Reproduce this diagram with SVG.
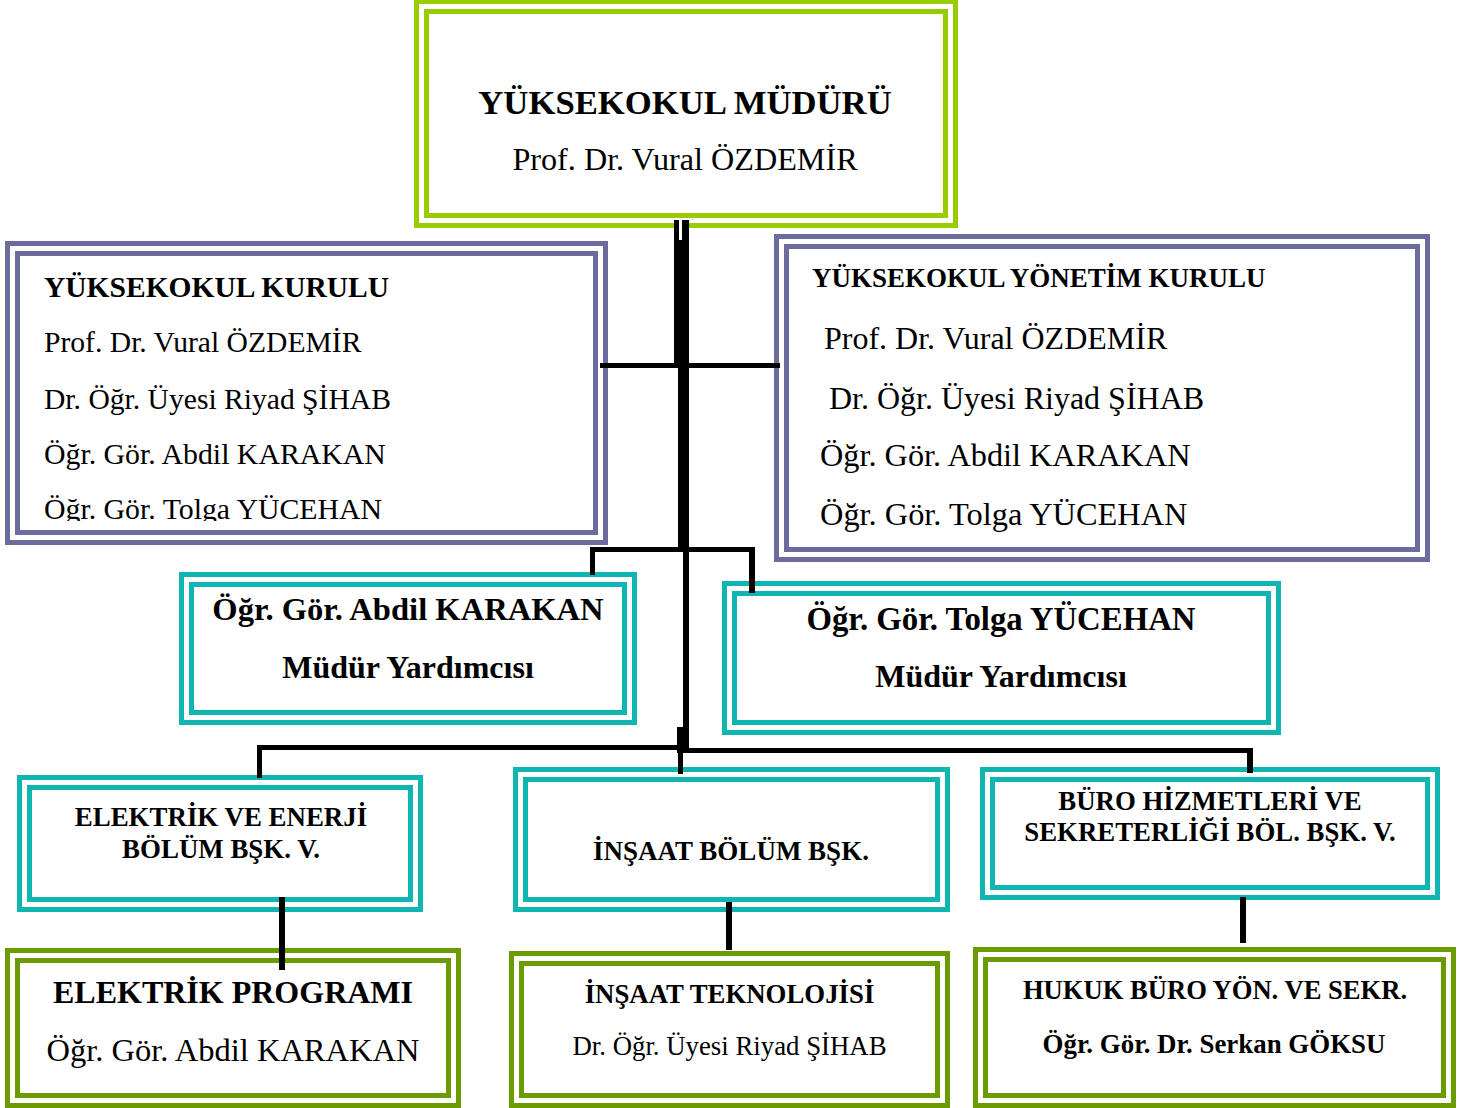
<svg xmlns="http://www.w3.org/2000/svg" width="1465" height="1108" viewBox="0 0 1465 1108">
<style>
  .o, .i { fill: none; stroke-width: 5; }
  .lime { stroke: #99cc00; }
  .purple { stroke: #6b6b9e; }
  .teal { stroke: #0fb5b1; }
  .olive { stroke: #6a9b00; }
  text { font-family: "Liberation Serif", "Times New Roman", serif; fill: #000; }
  .b { font-weight: bold; }
  .c { text-anchor: middle; }
  .conn rect { fill: #000; }
</style>
<defs>
  <clipPath id="clipYK"><rect x="17" y="253" width="578" height="268"/></clipPath>
</defs>
<rect x="0" y="0" width="1465" height="1108" fill="#fff"/>

<g id="mudur">
  <rect class="o lime" x="416.5" y="1.5" width="539" height="224"/>
  <rect class="i lime" x="426.5" y="11.5" width="519" height="204"/>
  <text class="b c" x="685" y="114" font-size="34.7">YÜKSEKOKUL MÜDÜRÜ</text>
  <text class="c" x="685" y="170" font-size="32.2">Prof. Dr. Vural ÖZDEMİR</text>
</g>

<g id="kurul">
  <rect class="o purple" x="7.5" y="243.5" width="598" height="299"/>
  <rect class="i purple" x="17.5" y="253.5" width="578" height="279"/>
  <g clip-path="url(#clipYK)">
    <text class="b" x="44" y="297" font-size="29.5">YÜKSEKOKUL KURULU</text>
    <text x="44" y="352" font-size="29.6">Prof. Dr. Vural ÖZDEMİR</text>
    <text x="44" y="409" font-size="29.6">Dr. Öğr. Üyesi Riyad ŞİHAB</text>
    <text x="44" y="464" font-size="29.8">Öğr. Gör. Abdil KARAKAN</text>
    <text x="44" y="519" font-size="29.8">Öğr. Gör. Tolga YÜCEHAN</text>
  </g>
</g>

<g id="yonetim">
  <rect class="o purple" x="776.5" y="236.5" width="651" height="323"/>
  <rect class="i purple" x="786.5" y="246.5" width="631" height="303"/>
  <text class="b" x="812" y="287" font-size="27">YÜKSEKOKUL YÖNETİM KURULU</text>
  <text x="824" y="349" font-size="32">Prof. Dr. Vural ÖZDEMİR</text>
  <text x="829" y="409" font-size="32">Dr. Öğr. Üyesi Riyad ŞİHAB</text>
  <text x="820" y="466" font-size="32.3">Öğr. Gör. Abdil KARAKAN</text>
  <text x="820" y="525" font-size="32.4">Öğr. Gör. Tolga YÜCEHAN</text>
</g>

<g id="yard1">
  <rect class="o teal" x="181.5" y="574.5" width="453" height="148"/>
  <rect class="i teal" x="191.5" y="584.5" width="433" height="128"/>
  <text class="b c" x="408" y="620" font-size="32.6">Öğr. Gör. Abdil KARAKAN</text>
  <text class="b c" x="408" y="678" font-size="32">Müdür Yardımcısı</text>
</g>

<g id="yard2">
  <rect class="o teal" x="724.5" y="583.5" width="554" height="149"/>
  <rect class="i teal" x="734.5" y="593.5" width="534" height="129"/>
  <text class="b c" x="1001" y="630" font-size="32.8">Öğr. Gör. Tolga YÜCEHAN</text>
  <text class="b c" x="1001" y="687" font-size="32">Müdür Yardımcısı</text>
</g>

<g id="elektrik-bolum">
  <rect class="o teal" x="19.5" y="777.5" width="401" height="132"/>
  <rect class="i teal" x="29.5" y="787.5" width="381" height="112"/>
  <text class="b c" x="221" y="826" font-size="26.9">ELEKTRİK VE ENERJİ</text>
  <text class="b c" x="221" y="858" font-size="26.9">BÖLÜM BŞK. V.</text>
</g>

<g id="insaat-bolum">
  <rect class="o teal" x="515.5" y="769.5" width="432" height="140"/>
  <rect class="i teal" x="525.5" y="779.5" width="412" height="120"/>
  <text class="b c" x="731" y="860" font-size="27">İNŞAAT BÖLÜM BŞK.</text>
</g>

<g id="buro-bolum">
  <rect class="o teal" x="982.5" y="769.5" width="455" height="128"/>
  <rect class="i teal" x="992.5" y="779.5" width="435" height="108"/>
  <text class="b c" x="1210" y="810" font-size="26.8">BÜRO HİZMETLERİ VE</text>
  <text class="b c" x="1210" y="841" font-size="26.8">SEKRETERLİĞİ BÖL. BŞK. V.</text>
</g>

<g id="elektrik-program">
  <rect class="o olive" x="7.5" y="950.5" width="451" height="155"/>
  <rect class="i olive" x="17.5" y="960.5" width="431" height="135"/>
  <text class="b c" x="233" y="1003" font-size="32">ELEKTRİK PROGRAMI</text>
  <text class="c" x="233" y="1061" font-size="32.5">Öğr. Gör. Abdil KARAKAN</text>
</g>

<g id="insaat-tek">
  <rect class="o olive" x="511.5" y="953.5" width="436" height="152"/>
  <rect class="i olive" x="521.5" y="963.5" width="416" height="132"/>
  <text class="b c" x="729.5" y="1003" font-size="26.8">İNŞAAT TEKNOLOJİSİ</text>
  <text class="c" x="729.5" y="1055" font-size="26.8">Dr. Öğr. Üyesi Riyad ŞİHAB</text>
</g>

<g id="hukuk">
  <rect class="o olive" x="975.5" y="949.5" width="478" height="156"/>
  <rect class="i olive" x="985.5" y="959.5" width="458" height="136"/>
  <text class="b c" x="1215" y="999" font-size="26.6">HUKUK BÜRO YÖN. VE SEKR.</text>
  <text class="b c" x="1214" y="1053" font-size="26.9">Öğr. Gör. Dr. Serkan GÖKSU</text>
</g>

<g id="connectors" class="conn">
  <rect x="674" y="220" width="15" height="148"/>
  <rect x="679" y="220" width="3" height="20" style="fill:#fff"/>
  <rect x="678" y="366" width="11" height="186"/>
  <rect x="683" y="550" width="6" height="203"/>
  <rect x="677" y="727" width="12" height="26"/>
  <rect x="678" y="750" width="5" height="24"/>
  <rect x="600" y="363" width="180" height="5"/>
  <rect x="590" y="547" width="165" height="5"/>
  <rect x="590" y="547" width="5" height="28"/>
  <rect x="749" y="547" width="6" height="46"/>
  <rect x="257" y="745" width="423" height="5"/>
  <rect x="257" y="745" width="5" height="33"/>
  <rect x="683" y="748" width="570" height="5"/>
  <rect x="1247" y="748" width="6" height="25"/>
  <rect x="279" y="897" width="6" height="73"/>
  <rect x="726" y="902" width="6" height="48"/>
  <rect x="1240" y="897" width="6" height="46"/>
</g>
</svg>
